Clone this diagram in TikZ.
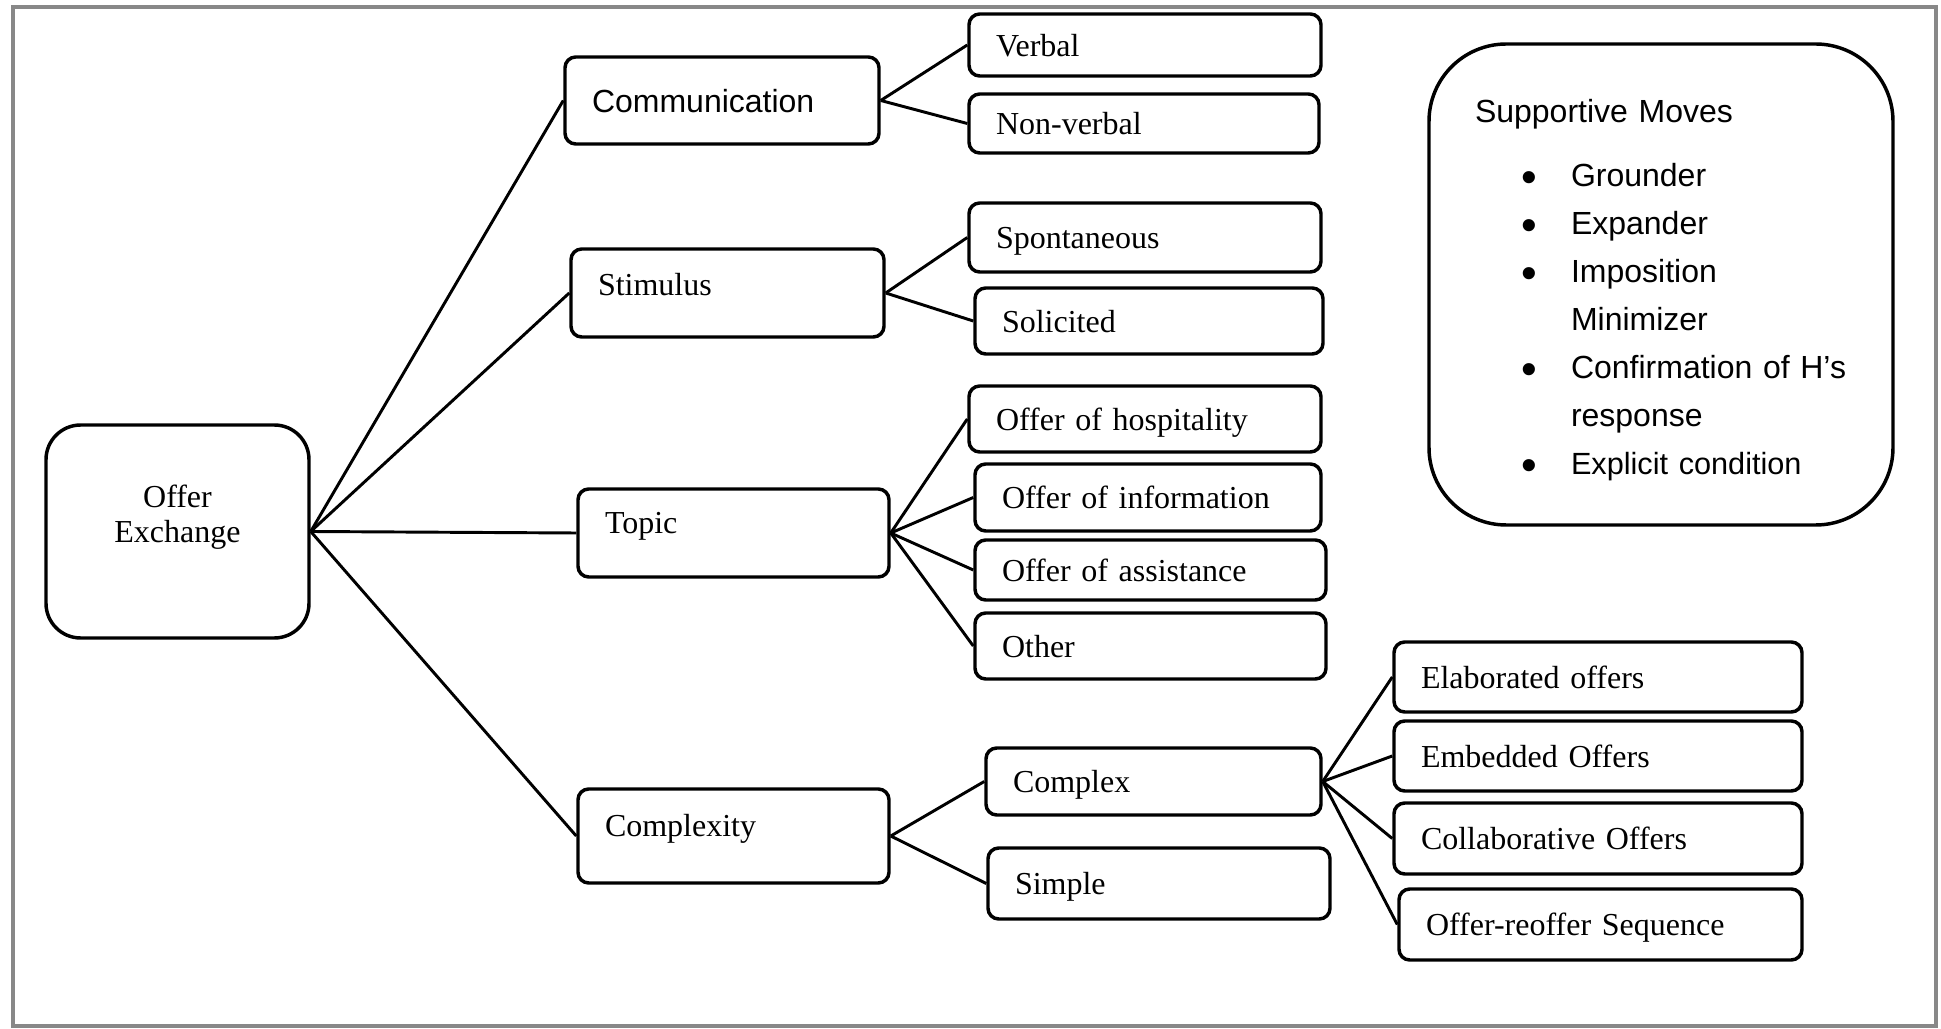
\documentclass[tikz,border=0pt]{standalone}
\usepackage{fontspec}
\setmainfont{Liberation Serif}
\setsansfont{Liberation Sans}
\definecolor{framegray}{RGB}{136,136,136}
\newdimen\pix \pix=0.375pt
\newcommand{\sitem}[1]{\hspace*{46\pix}\makebox[50\pix][l]{\raisebox{-2pt}{\scalebox{1.4}{\textbullet}}}#1}
\newcommand{\sgap}{\hspace*{96\pix}}
\begin{document}
\begin{tikzpicture}[x=0.375pt,y=-0.375pt,
 every node/.style={font=\fontsize{12}{13.2}\selectfont},
 box/.style={draw,line width=1.3pt,rounded corners=4pt,align=left,inner xsep=27*\pix,inner ysep=0pt,text depth=0pt},
 sz/.style 2 args={minimum width=#1*\pix,text width=(#1-54)*\pix,minimum height=#2*\pix},
 link/.style={line width=1.1pt}]
\useasboundingbox(0,0)rectangle(1941,1029);
\draw[framegray,line width=1.6pt](13,7)rectangle(1936,1026);
\node[box,sz={263}{213},align=center,rounded corners=13pt,text depth=26.7pt](oe)at(177.5,531.5){Offer\\Exchange};
\node[box,sz={314}{87},font=\sffamily\fontsize{12}{13.2}\selectfont](comm)at(722,100.5){Communication};
\node[box,sz={313}{88},text depth=6.8pt](stim)at(727.5,293){Stimulus};
\node[box,sz={311}{88},text depth=7.5pt](topic)at(733.5,533){Topic};
\node[box,sz={311}{94},text depth=8.25pt](cplx)at(733.5,836){Complexity};
\node[box,sz={352}{62}](verbal)at(1145,45){Verbal};
\node[box,sz={350}{59}](nonverbal)at(1144,123.5){Non-verbal};
\node[box,sz={352}{69}](spont)at(1145,237.5){Spontaneous};
\node[box,sz={348}{66}](solic)at(1149,321){Solicited};
\node[box,sz={352}{66}](hosp)at(1145,419){Offer of hospitality};
\node[box,sz={346}{67}](info)at(1148,497.5){Offer of information};
\node[box,sz={351}{60}](assist)at(1150.5,570){Offer of assistance};
\node[box,sz={351}{66}](other)at(1150.5,646){Other};
\node[box,sz={335}{67}](complex)at(1153.5,781.5){Complex};
\node[box,sz={342}{71}](simple)at(1159,883.5){Simple};
\node[box,sz={408}{70}](elab)at(1598,677){Elaborated offers};
\node[box,sz={408}{70}](embed)at(1598,756){Embedded Offers};
\node[box,sz={408}{71}](collab)at(1598,838.5){Collaborative Offers};
\node[box,sz={403}{71}](reoffer)at(1600.5,924.5){Offer-reoffer Sequence};
\node[draw,line width=1.3pt,rounded corners=29pt,align=left,inner xsep=46*\pix,inner ysep=0pt,
 minimum width=464*\pix,minimum height=481*\pix,text width=372*\pix,text height=13.2pt,
 font=\sffamily\fontsize{12}{18}\selectfont](support)at(1661,284.5){Supportive Moves\\[6pt]
\sitem{Grounder}\\
\sitem{Expander}\\
\sitem{Imposition}\\
\sgap Minimizer\\
\sitem{Confirmation of H’s}\\
\sgap response\\
\sitem{\fontsize{11.5}{18}\selectfont Explicit condition}};
\foreach \t in {comm,stim,topic,cplx}{\draw[link](oe.east)--(\t.west);}
\foreach \t in {verbal,nonverbal}{\draw[link](comm.east)--(\t.west);}
\foreach \t in {spont,solic}{\draw[link](stim.east)--(\t.west);}
\foreach \t in {hosp,info,assist,other}{\draw[link](topic.east)--(\t.west);}
\foreach \t in {complex,simple}{\draw[link](cplx.east)--(\t.west);}
\foreach \t in {elab,embed,collab,reoffer}{\draw[link](complex.east)--(\t.west);}
\end{tikzpicture}
\end{document}
